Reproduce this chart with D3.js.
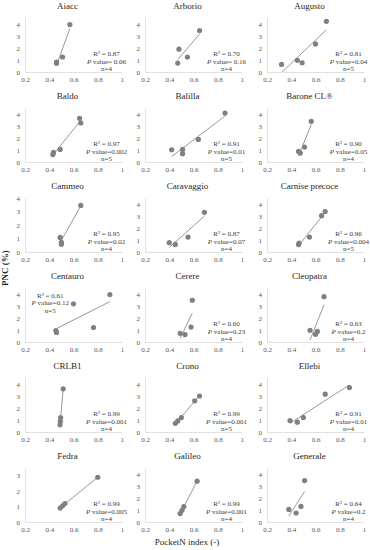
<!DOCTYPE html>
<html>
<head>
<meta charset="utf-8">
<script src="https://cdn.jsdelivr.net/npm/d3@7"></script>
<style>
    body { margin: 0; background: #fff; }
    svg text { font-family: "Liberation Serif"; }
</style>
</head>
<body>
<div id="chart"></div>
<script>
'use strict';

// variety names, one panel each (3 per row)
const varieties = ['Aiacc', 'Arborio', 'Augusto', 'Baldo', 'Balilla', 'Barone CL®',
    'Cammeo', 'Caravaggio', 'Carnise precoce', 'Centauro', 'Cerere', 'Cleopatra',
    'CRLB1', 'Crono', 'Ellebi', 'Fedra', 'Galileo', 'Generale'];

// PocketN index (x) per variety
const pocketN = [
    [0.57, 0.51, 0.46, 0.46],
    [0.65, 0.48, 0.55, 0.47],
    [0.69, 0.60, 0.45, 0.49, 0.32],
    [0.65, 0.66, 0.49, 0.435, 0.43],
    [0.86, 0.64, 0.42, 0.51, 0.51],
    [0.565, 0.51, 0.46, 0.475],
    [0.66, 0.49, 0.50, 0.50],
    [0.69, 0.555, 0.40, 0.45],
    [0.68, 0.65, 0.55, 0.465, 0.46],
    [0.90, 0.60, 0.765, 0.455, 0.46],
    [0.59, 0.58, 0.49, 0.53],
    [0.67, 0.555, 0.615, 0.60],
    [0.515, 0.494, 0.492, 0.489],
    [0.45, 0.47, 0.50, 0.61, 0.65],
    [0.88, 0.68, 0.50, 0.45, 0.39],
    [0.80, 0.53, 0.51, 0.49],
    [0.63, 0.52, 0.505, 0.49],
    [0.51, 0.48, 0.38, 0.44]
];

// PNC (%) per variety
const pnc = [
    [3.95, 1.25, 0.82, 0.72],
    [3.45, 1.90, 1.24, 0.74],
    [4.22, 2.34, 0.97, 0.77, 0.63],
    [3.64, 3.26, 1.05, 0.80, 0.62],
    [4.08, 1.88, 1.02, 1.05, 0.69],
    [3.39, 1.24, 0.88, 0.74],
    [3.45, 1.08, 0.72, 0.58],
    [3.31, 1.24, 0.78, 0.63],
    [3.37, 3.03, 1.24, 0.74, 0.62],
    [3.95, 3.18, 1.21, 0.95, 0.80],
    [3.48, 1.24, 0.72, 0.62],
    [3.78, 0.97, 0.88, 0.64],
    [3.60, 1.20, 0.90, 0.60],
    [0.72, 0.92, 1.20, 2.60, 3.00],
    [3.70, 3.15, 1.20, 0.82, 0.95],
    [2.90, 1.20, 1.05, 0.90],
    [3.40, 1.28, 0.98, 0.70],
    [3.45, 1.30, 1.05, 0.75]
];

const rSquared = ['0.87', '0.70', '0.81', '0.97', '0.91', '0.90', '0.95', '0.87', '0.96',
    '0.61', '0.60', '0.63', '0.99', '0.99', '0.91', '0.99', '0.99', '0.64'];
const pValues = ['= 0.06', '= 0.16', '=0.04', '=0.002', '=0.01', '=0.05', '=0.02', '=0.07', '=0.004',
    '=0.12', '=0.23', '=0.2', '=0.001', '=0.001', '=0.01', '=0.005', '=0.001', '=0.2'];
const nValues = ['4', '4', '5', '5', '5', '4', '4', '4', '5', '5', '4', '4', '4', '5', '4', '4', '4', '4'];

// axis extents
const yAxisMax = [4.5, 4.5, 4.5, 4.5, 4.5, 4.5, 4, 4.5, 4.5, 4.5, 4.5, 4.5, 4.5, 4.5, 4.5, 3.5, 4.5, 4.5];
const xTicks = [0.2, 0.4, 0.6, 0.8, 1];

// Config
const w = 370, h = 550;
const colLeft = [25, 145, 267];
const plotW = 97;
const rowH = 90;
const plotTop = 18, plotBottom = 72;
const grey = '#7f7f7f';

const svg = d3.select('#chart')
    .append('svg')
    .attr('width', w)
    .attr('height', h);

const xScale = d3.scaleLinear()
    .domain([0.2, 1])
    .range([0, plotW]);

varieties.forEach((name, i) => {
    const col = i % 3;
    const row = Math.floor(i / 3);

    const g = svg.append('g')
        .attr('transform', `translate(${colLeft[col]},${row * rowH})`);

    const yScale = d3.scaleLinear()
        .domain([0, yAxisMax[i]])
        .range([plotBottom, plotTop]);

    // title
    g.append('text')
        .attr('x', plotW / 2 - 6)
        .attr('y', 9)
        .attr('text-anchor', 'middle')
        .style('font-size', '9px')
        .attr('fill', '#262626')
        .text(name);

    // x axis
    const xAxis = g.append('g')
        .attr('transform', `translate(0,${plotBottom})`)
        .call(d3.axisBottom(xScale).tickValues(xTicks).tickSize(0).tickPadding(5)
            .tickFormat(d3.format('')));
    // y axis
    const yAxis = g.append('g')
        .call(d3.axisLeft(yScale).tickValues(d3.range(0, Math.floor(yAxisMax[i]) + 1))
            .tickSize(0).tickPadding(5).tickFormat(d3.format('d')));

    [xAxis, yAxis].forEach(ax => {
        ax.attr('font-family', null).attr('font-size', null);
        ax.select('.domain').attr('stroke', '#d9d9d9').attr('stroke-width', 0.8);
        ax.selectAll('text')
            .style('font-size', '7px')
            .attr('fill', '#595959');
    });

    // clip for trendline
    g.append('clipPath')
        .attr('id', `clip${i}`)
        .append('rect')
        .attr('x', 0)
        .attr('y', yScale(yAxisMax[i]))
        .attr('width', plotW)
        .attr('height', plotBottom - yScale(yAxisMax[i]));

    // least squares fit of the points
    const xs = pocketN[i], ys = pnc[i];
    const mx = d3.mean(xs), my = d3.mean(ys);
    let sxy = 0, sxx = 0;
    xs.forEach((x, k) => {
        sxy += (x - mx) * (ys[k] - my);
        sxx += (x - mx) * (x - mx);
    });
    const slope = sxy / sxx;
    const icpt = my - slope * mx;
    const ext = d3.extent(xs);

    g.append('line')
        .attr('clip-path', `url(#clip${i})`)
        .attr('x1', xScale(ext[0]))
        .attr('y1', yScale(icpt + slope * ext[0]))
        .attr('x2', xScale(ext[1]))
        .attr('y2', yScale(icpt + slope * ext[1]))
        .attr('stroke', grey)
        .attr('stroke-width', 0.8);

    // points
    g.selectAll('.pt')
        .data(xs.map((x, k) => [x, ys[k]]))
        .join('circle')
        .attr('class', 'pt')
        .attr('cx', d => xScale(d[0]))
        .attr('cy', d => yScale(d[1]))
        .attr('r', 2.6)
        .attr('fill', '#808080');

    // stats note
    const topLeft = name === 'Centauro';
    const noteX = topLeft ? plotW * 0.26 : plotW * 0.84;
    const noteY = topLeft ? [27.5, 35, 42.5] : [55.5, 63.5, 71];
    const note = g.append('g')
        .style('font-size', '7px')
        .attr('fill', '#404040')
        .attr('text-anchor', 'middle');
    note.append('text')
        .attr('x', noteX).attr('y', noteY[0])
        .text(`R² = ${rSquared[i]}`);
    const pt = note.append('text')
        .attr('x', noteX).attr('y', noteY[1]);
    pt.append('tspan').style('font-style', 'italic').text('P');
    pt.append('tspan').text(` value${pValues[i]}`);
    note.append('text')
        .attr('x', noteX).attr('y', noteY[2])
        .text(`n=${nValues[i]}`);
});

// axis titles
svg.append('text')
    .attr('transform', 'translate(8,268) rotate(-90)')
    .attr('text-anchor', 'middle')
    .style('font-size', '9px')
    .style('font-weight', 'bold')
    .attr('fill', '#262626')
    .text('PNC (%)');

svg.append('text')
    .attr('x', 187)
    .attr('y', 545)
    .attr('text-anchor', 'middle')
    .style('font-size', '9px')
    .attr('fill', '#262626')
    .text('PocketN index (-)');
</script>
</body>
</html>
